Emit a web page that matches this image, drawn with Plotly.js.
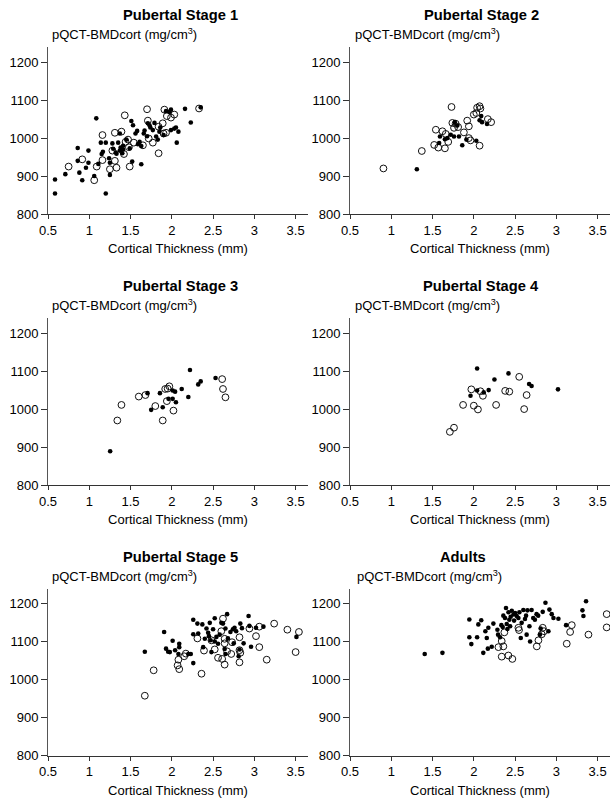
<!DOCTYPE html>
<html>
<head>
<meta charset="utf-8">
<script src="https://cdn.plot.ly/plotly-3.0.1.min.js"></script>
<style>html,body{margin:0;padding:0;background:#fff;}#chart{width:610px;height:804px;}</style>
</head>
<body>
<div id="chart"></div>
<script>
// ---- Data ----
const panelTitles = ["Pubertal Stage 1", "Pubertal Stage 2", "Pubertal Stage 3", "Pubertal Stage 4", "Pubertal Stage 5", "Adults"];
const yAxisLabel = "pQCT-BMDcort (mg/cm<sup>3</sup>)";
const xAxisLabel = "Cortical Thickness (mm)";
const xTickVals = [0.5, 1, 1.5, 2, 2.5, 3, 3.5];
const yTickVals = [800, 900, 1000, 1100, 1200];

// Pubertal Stage 1
const s1FilledX = [0.585,0.585,0.71,0.86,0.86,0.88,0.915,0.96,0.99,0.99,1.085,1.06,1.11,1.14,1.15,1.165,1.2,1.2,1.24,1.25,1.25,1.28,1.29,1.32,1.33,1.35,1.37,1.37,1.38,1.4,1.41,1.41,1.45,1.49,1.51,1.53,1.52,1.56,1.58,1.59,1.61,1.63,1.63,1.66,1.67,1.7,1.71,1.73,1.74,1.77,1.79,1.81,1.83,1.85,1.86,1.9,1.93,1.97,1.99,1.99,2.03,2.05,2.06,2.08,2.16,2.23,2.35];
const s1FilledY = [891,854,905,974,940,909,889,922,935,967,1052,900,932,988,958,964,854,988,947,935,903,986,972,962,959,988,967,1012,975,960,970,980,996,973,1045,1034,938,1012,1019,984,990,979,931,1012,1020,1005,1039,1034,1028,1021,1040,1004,996,1017,1028,1008,1071,1069,1075,1021,1025,1028,988,1017,1077,1041,1081];
const s1OpenX = [0.75,0.915,1.06,1.09,1.16,1.16,1.25,1.31,1.31,1.33,1.39,1.28,1.43,1.42,1.44,1.47,1.49,1.48,1.54,1.65,1.7,1.71,1.72,1.77,1.84,1.84,1.89,1.9,1.91,1.94,1.99,2.03,1.93,2.33];
const s1OpenY = [925,944,889,925,942,1008,918,1014,940,922,1017,967,1060,958,990,996,925,976,988,981,1076,1046,999,988,960,1030,1039,1012,1075,1058,1054,1062,1014,1078];

// Pubertal Stage 2
const s2FilledX = [1.31,1.58,1.59,1.65,1.68,1.72,1.76,1.77,1.8,1.82,1.86,1.91,2.03,2.07,2.09,2.1,2.16];
const s2FilledY = [918,987,1004,997,1000,1009,1004,1042,1033,1004,981,996,993,1047,1058,1042,1037];
const s2OpenX = [0.905,1.37,1.73,1.54,1.52,1.57,1.62,1.65,1.66,1.69,1.74,1.76,1.78,1.81,1.88,1.92,1.94,1.94,1.96,2.0,2.03,2.04,2.07,2.08,2.07,2.17,2.21];
const s2OpenY = [920,966,1082,1022,982,975,1018,973,1011,990,1040,1027,1038,1029,1015,1046,1031,1000,994,1062,1066,1080,1084,1078,980,1050,1042];

// Pubertal Stage 3
const s3FilledX = [1.253,1.706,1.75,1.856,1.89,1.96,2.01,2.01,2.04,2.05,2.12,2.2,2.22,2.32,2.35,2.53];
const s3FilledY = [889,1042,998,1042,1005,1027,1049,1027,1046,1018,1053,1032,1103,1065,1073,1082];
const s3OpenX = [1.34,1.39,1.6,1.68,1.8,1.89,1.92,1.95,1.97,1.94,2.02,2.61,2.62,2.65];
const s3OpenY = [970,1011,1033,1037,1008,970,1053,1054,1060,1021,996,1079,1053,1031];

// Pubertal Stage 4
const s4FilledX = [2.04,1.96,2.04,2.12,2.18,2.25,2.42,2.67,2.7,3.02];
const s4FilledY = [1107,1035,1049,1044,1050,1078,1094,1066,1061,1052];
const s4OpenX = [1.71,1.76,1.87,1.97,2.0,2.05,2.08,2.11,2.27,2.38,2.43,2.55,2.61,2.64];
const s4OpenY = [940,951,1011,1052,1009,999,1047,1035,1011,1048,1046,1085,1000,1037];

// Pubertal Stage 5
const s5FilledX = [1.673,1.907,1.93,1.956,1.976,2.01,2.04,2.08,2.09,2.09,2.2,2.23,2.26,2.26,2.26,2.31,2.32,2.37,2.38,2.4,2.42,2.44,2.45,2.46,2.47,2.48,2.5,2.52,2.52,2.54,2.56,2.58,2.6,2.62,2.64,2.65,2.65,2.67,2.68,2.71,2.74,2.75,2.76,2.78,2.81,2.82,2.83,2.85,2.87,2.93,2.94,2.96,3.02,3.11,3.51];
const s5FilledY = [1074,1126,1082,1074,1073,1103,1078,1068,1095,1086,1068,1068,1158,1120,1044,1148,1122,1146,1086,1108,1135,1124,1115,1150,1104,1073,1133,1162,1101,1113,1095,1119,1150,1148,1081,1068,1135,1173,1109,1126,1133,1096,1137,1128,1062,1080,1148,1136,1096,1168,1142,1087,1137,1140,1113];
const s5OpenX = [1.673,1.78,2.07,2.08,2.09,2.15,2.17,2.31,2.36,2.39,2.48,2.52,2.56,2.6,2.61,2.62,2.64,2.64,2.64,2.67,2.72,2.73,2.82,2.82,2.83,2.82,2.94,3.02,3.06,3.06,3.15,3.24,3.4,3.5,3.54];
const s5OpenY = [958,1025,1038,1053,1028,1062,1069,1109,1016,1077,1104,1080,1058,1128,1055,1161,1108,1096,1040,1075,1068,1099,1112,1078,1071,1046,1135,1115,1140,1086,1053,1148,1132,1073,1126];

// Adults
const s6FilledX = [1.405,1.62,1.946,1.97,1.946,2.04,2.055,2.09,2.115,2.14,2.157,2.17,2.176,2.217,2.237,2.286,2.294,2.318,2.334,2.35,2.358,2.378,2.39,2.399,2.407,2.42,2.43,2.44,2.447,2.46,2.48,2.488,2.5,2.52,2.54,2.552,2.569,2.58,2.6,2.62,2.633,2.64,2.65,2.674,2.682,2.7,2.72,2.74,2.76,2.78,2.8,2.81,2.835,2.868,2.904,2.916,2.944,2.965,3.025,3.118,3.316,3.328,3.36];
const s6FilledY = [1068,1071,1159,1094,1112,1112,1146,1157,1071,1128,1110,1082,1137,1087,1148,1132,1119,1112,1144,1139,1169,1163,1189,1147,1134,1178,1158,1141,1166,1182,1172,1156,1176,1168,1163,1178,1110,1150,1184,1160,1169,1119,1183,1141,1101,1184,1163,1158,1173,1169,1119,1135,1179,1203,1128,1185,1173,1163,1161,1144,1183,1168,1207];
const s6OpenX = [2.298,2.338,2.358,2.338,2.419,2.467,2.54,2.548,2.37,2.763,2.783,2.823,2.835,2.851,3.126,3.167,3.187,3.389,3.61,3.61];
const s6OpenY = [1086,1102,1088,1061,1064,1055,1137,1131,1125,1088,1104,1120,1137,1128,1095,1126,1144,1119,1173,1138];

const filledX = [s1FilledX, s2FilledX, s3FilledX, s4FilledX, s5FilledX, s6FilledX];
const filledY = [s1FilledY, s2FilledY, s3FilledY, s4FilledY, s5FilledY, s6FilledY];
const openX = [s1OpenX, s2OpenX, s3OpenX, s4OpenX, s5OpenX, s6OpenX];
const openY = [s1OpenY, s2OpenY, s3OpenY, s4OpenY, s5OpenY, s6OpenY];

// ---- Layout geometry (pixels) ----
const W = 610, H = 804;
const FONT = "Liberation Sans, Arial, Helvetica, sans-serif";
const colLeft = [48, 350];      // x pixel of plot-area left edge
const colWidth = 260;
const rowBottom = [214, 485, 755.7]; // y pixel of x-axis line
const rowHeight = 167;
const titleCenterX = [181, 481, 180, 481, 180, 463];
const ylabelLeftX = [50, 353, 50, 353, 50, 355];

const data = [];
const layout = {
  width: W, height: H,
  margin: {l: 0, r: 0, t: 0, b: 0},
  paper_bgcolor: "#fff", plot_bgcolor: "#fff",
  showlegend: false,
  font: {family: FONT, size: 13, color: "#000"},
  annotations: []
};

for (let i = 0; i < 6; i++) {
  const row = Math.floor(i / 2), col = i % 2;
  const sfx = i === 0 ? "" : String(i + 1);
  const xa = "x" + sfx, ya = "y" + sfx;
  const x0 = colLeft[col] / W, x1 = (colLeft[col] + colWidth) / W;
  const yb = rowBottom[row];
  const y0 = 1 - yb / H, y1 = 1 - (yb - rowHeight) / H;

  data.push({
    type: "scatter", mode: "markers", x: openX[i], y: openY[i], xaxis: xa, yaxis: ya,
    marker: {symbol: "circle-open", size: 6.8, color: "#111", line: {width: 1, color: "#111"}},
    cliponaxis: false, hoverinfo: "skip"
  });
  data.push({
    type: "scatter", mode: "markers", x: filledX[i], y: filledY[i], xaxis: xa, yaxis: ya,
    marker: {symbol: "circle", size: 4.6, color: "#000"},
    cliponaxis: false, hoverinfo: "skip"
  });

  layout["xaxis" + sfx] = {
    domain: [x0, x1], anchor: ya, range: [0.5, 3.65],
    tickmode: "array", tickvals: xTickVals,
    showgrid: false, zeroline: false, showline: true, linecolor: "#333", linewidth: 1,
    ticks: "outside", ticklen: 4, tickcolor: "#333", tickwidth: 1,
    tickfont: {family: FONT, size: 13, color: "#000"},
    title: {text: xAxisLabel, font: {family: FONT, size: 13, color: "#000"}, standoff: 7},
    fixedrange: true
  };
  layout["yaxis" + sfx] = {
    domain: [y0, y1], anchor: xa, range: [800, 1240],
    tickmode: "array", tickvals: yTickVals,
    showgrid: false, zeroline: false, showline: true, linecolor: "#555", linewidth: 1,
    ticks: "outside", ticklen: 6, tickcolor: "#333", tickwidth: 1,
    tickfont: {family: FONT, size: 13, color: "#000"},
    fixedrange: true
  };

  layout.annotations.push({
    text: "<b>" + panelTitles[i] + "</b>", xref: "paper", yref: "paper",
    x: titleCenterX[i] / W, y: 1 - (yb - 199) / H, xanchor: "center", yanchor: "middle",
    showarrow: false, font: {family: FONT, size: 14.7, color: "#000"}
  });
  layout.annotations.push({
    text: yAxisLabel, xref: "paper", yref: "paper",
    x: ylabelLeftX[i] / W, y: 1 - (yb - 180) / H, xanchor: "left", yanchor: "middle",
    showarrow: false, font: {family: FONT, size: 13, color: "#000"}
  });
}

Plotly.newPlot("chart", data, layout, {staticPlot: true, displayModeBar: false});
</script>
</body>
</html>
